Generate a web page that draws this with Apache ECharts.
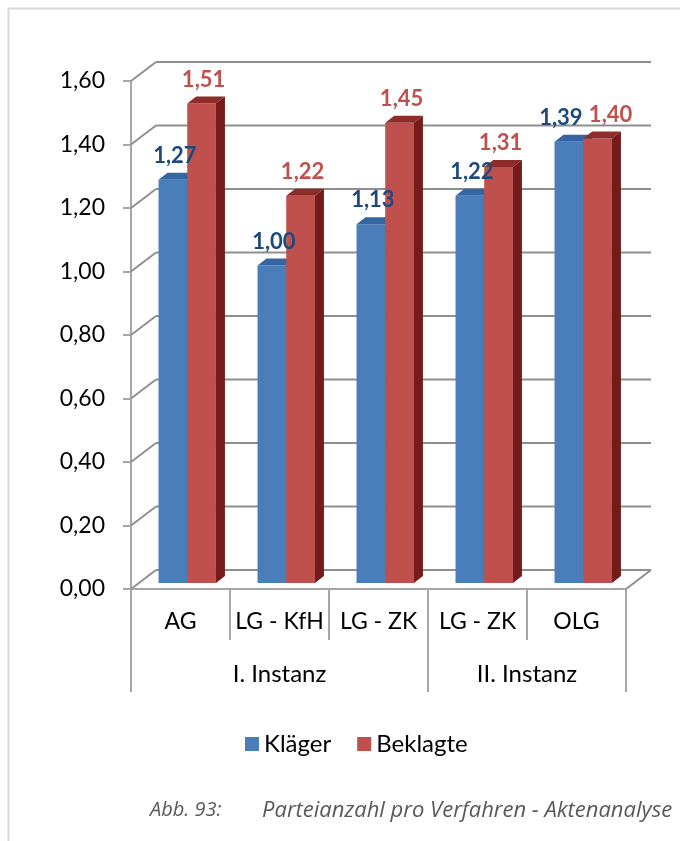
<!DOCTYPE html>
<html lang="de">
<head>
<meta charset="utf-8">
<title>Parteianzahl pro Verfahren</title>
<script src="https://cdn.jsdelivr.net/npm/echarts@6.0.0/dist/echarts.min.js"></script>
<style>
  html, body { margin: 0; padding: 0; background: #fff; }
  #chart { width: 680px; height: 841px; }
</style>
</head>
<body>
<div id="chart"></div>
<script>
const categories = ['AG', 'LG - KfH', 'LG - ZK', 'LG - ZK', 'OLG'];
const groups = ['I. Instanz', 'II. Instanz'];
const groupSizes = [3, 2];
const klaeger = [1.27, 1.00, 1.13, 1.22, 1.39];
const beklagte = [1.51, 1.22, 1.45, 1.31, 1.40];
const yTicks = [0, 0.2, 0.4, 0.6, 0.8, 1.0, 1.2, 1.4, 1.6];

const FONT = 'Lato';
const GRID_COLOR = '#8f8f8f';
const AXIS_COLOR = '#a6a6a6';
// depth of the back wall and of the bars, in pixels
const WALL_DX = 25, WALL_DY = -19;
const BAR_DX = 9, BAR_DY = -7, BAR_SHIFT = -6;

function fmt(v) {
  return v.toFixed(2).replace('.', ',');
}

// group boundaries and label positions from the sizes
var groupEdges = [0];
var groupCenters = [];
groupSizes.forEach(function (n) {
  var start = groupEdges[groupEdges.length - 1];
  groupCenters.push(start + n / 2);
  groupEdges.push(start + n);
});

function renderWall(params, api) {
  var v = api.value(1);
  var cs = params.coordSys;
  var y = api.coord([0, v])[1];
  var left = cs.x, right = cs.x + cs.width;
  var style = { stroke: GRID_COLOR, lineWidth: 2 };
  var children = [
    { type: 'line', shape: { x1: left, y1: y, x2: left + WALL_DX, y2: y + WALL_DY }, style: style },
    { type: 'line', shape: { x1: left + WALL_DX, y1: y + WALL_DY, x2: right + WALL_DX, y2: y + WALL_DY }, style: style }
  ];
  if (v === 0) {
    children.push({ type: 'line', shape: { x1: right, y1: y, x2: right + WALL_DX, y2: y + WALL_DY }, style: style });
  }
  return { type: 'group', children: children, silent: true };
}

// front face geometry of one bar
function barBox(slot, api) {
  var idx = api.value(0);
  var v = api.value(1);
  var band = api.size([1, 0])[0];
  var c = api.coord([idx, v]);
  var base = api.coord([idx, 0]);
  var w = band * 0.29;
  return {
    idx: idx,
    x: c[0] - band / 2 + band * 0.278 + slot * w,
    w: w,
    yt: c[1] + BAR_SHIFT,
    yb: base[1] + BAR_SHIFT,
    v: v
  };
}

function barRenderer(slot, front, top, side) {
  return function (params, api) {
    var b = barBox(slot, api);
    var x = b.x, w = b.w, yt = b.yt, yb = b.yb;
    return {
      type: 'group',
      children: [
        { type: 'rect', shape: { x: x, y: yt, width: w, height: yb - yt }, style: { fill: front } },
        { type: 'polygon', shape: { points: [[x, yt], [x + w, yt], [x + w + BAR_DX, yt + BAR_DY], [x + BAR_DX, yt + BAR_DY]] }, style: { fill: top } },
        { type: 'polygon', shape: { points: [[x + w, yt], [x + w + BAR_DX, yt + BAR_DY], [x + w + BAR_DX, yb + BAR_DY], [x + w, yb]] }, style: { fill: side } }
      ]
    };
  };
}

function labelRenderer(slot, color, others) {
  return function (params, api) {
    var b = barBox(slot, api);
    var dx = 2;
    // push the two labels of a category apart when they would overlap
    var otherY = api.coord([b.idx, others[b.idx]])[1] + BAR_SHIFT;
    if (Math.abs(otherY - b.yt) < 22) {
      dx = slot === 0 ? -8 : 13;
    }
    return {
      type: 'text',
      x: b.x + b.w / 2 + dx,
      y: b.yt - 24,
      style: {
        text: fmt(b.v),
        fill: color,
        font: 'bold 22px ' + FONT,
        align: 'center',
        verticalAlign: 'middle'
      }
    };
  };
}

var chart = echarts.init(document.getElementById('chart'), null, { renderer: 'canvas' });
chart.setOption({
  backgroundColor: '#fff',
  animation: false,
  textStyle: { fontFamily: FONT },
  title: [
    { text: 'Abb. 93:', left: 145, top: 795, textStyle: { fontSize: 20, fontStyle: 'italic', fontWeight: 'normal', color: '#595959', fontFamily: 'Open Sans' } },
    { text: 'Parteianzahl pro Verfahren - Aktenanalyse', left: 257, top: 795, textStyle: { fontSize: 22, fontStyle: 'italic', fontWeight: 'normal', color: '#595959', fontFamily: 'Open Sans' } }
  ],
  graphic: [
    { type: 'rect', left: 6, top: 6, shape: { width: 720, height: 900 }, style: { fill: 'none', stroke: '#d9d9d9', lineWidth: 2 }, silent: true }
  ],
  legend: {
    left: 240,
    top: 727,
    itemWidth: 14,
    itemHeight: 14,
    itemGap: 26,
    textStyle: { fontSize: 24, color: '#000', fontFamily: FONT },
    data: [{ name: 'Kläger', icon: 'rect' }, { name: 'Beklagte', icon: 'rect' }]
  },
  grid: { left: 131, right: 54, top: 81, bottom: 252, outerBoundsMode: 'none' },
  xAxis: [
    {
      type: 'category',
      data: categories,
      position: 'bottom',
      offset: 0,
      axisLine: { lineStyle: { color: AXIS_COLOR, width: 2 } },
      axisTick: { show: true, interval: 0, length: 51, lineStyle: { color: AXIS_COLOR, width: 2 } },
      axisLabel: { interval: 0, margin: 21, fontSize: 23, color: '#000', fontFamily: FONT },
      splitLine: { show: false }
    },
    {
      type: 'value',
      min: 0,
      max: categories.length,
      position: 'bottom',
      offset: 0,
      axisLine: { show: false },
      axisTick: { show: true, customValues: groupEdges, length: 103, lineStyle: { color: AXIS_COLOR, width: 2 } },
      axisLabel: {
        customValues: groupCenters,
        margin: 73,
        fontSize: 24,
        color: '#000',
        fontFamily: FONT,
        formatter: function (v) { return groups[groupCenters.indexOf(v)] || ''; }
      },
      splitLine: { show: false }
    }
  ],
  yAxis: {
    type: 'value',
    min: 0,
    max: 1.6,
    interval: 0.2,
    axisLine: { show: true, lineStyle: { color: AXIS_COLOR, width: 2 } },
    axisTick: { show: true, length: 8, lineStyle: { color: AXIS_COLOR, width: 2 } },
    axisLabel: { margin: 26, fontSize: 23, color: '#000', fontFamily: FONT, formatter: fmt },
    splitLine: { show: false }
  },
  series: [
    {
      type: 'custom',
      name: 'wall',
      silent: true,
      renderItem: renderWall,
      data: yTicks.map(function (v) { return [0, v]; }),
      z: 1
    },
    {
      type: 'custom',
      name: 'Kläger',
      itemStyle: { color: '#4a7ebb' },
      renderItem: barRenderer(0, '#4a7ebb', '#3566a1', '#2c4f7d'),
      data: klaeger.map(function (v, i) { return [i, v]; }),
      z: 2
    },
    {
      type: 'custom',
      name: 'Beklagte',
      itemStyle: { color: '#c0504d' },
      renderItem: barRenderer(1, '#c0504d', '#8e2c29', '#731c1a'),
      data: beklagte.map(function (v, i) { return [i, v]; }),
      z: 3
    },
    {
      type: 'custom',
      name: 'Kläger',
      silent: true,
      renderItem: labelRenderer(0, '#1f497d', beklagte),
      data: klaeger.map(function (v, i) { return [i, v]; }),
      z: 10
    },
    {
      type: 'custom',
      name: 'Beklagte',
      silent: true,
      renderItem: labelRenderer(1, '#c0504d', klaeger),
      data: beklagte.map(function (v, i) { return [i, v]; }),
      z: 10
    }
  ]
});
</script>
</body>
</html>
